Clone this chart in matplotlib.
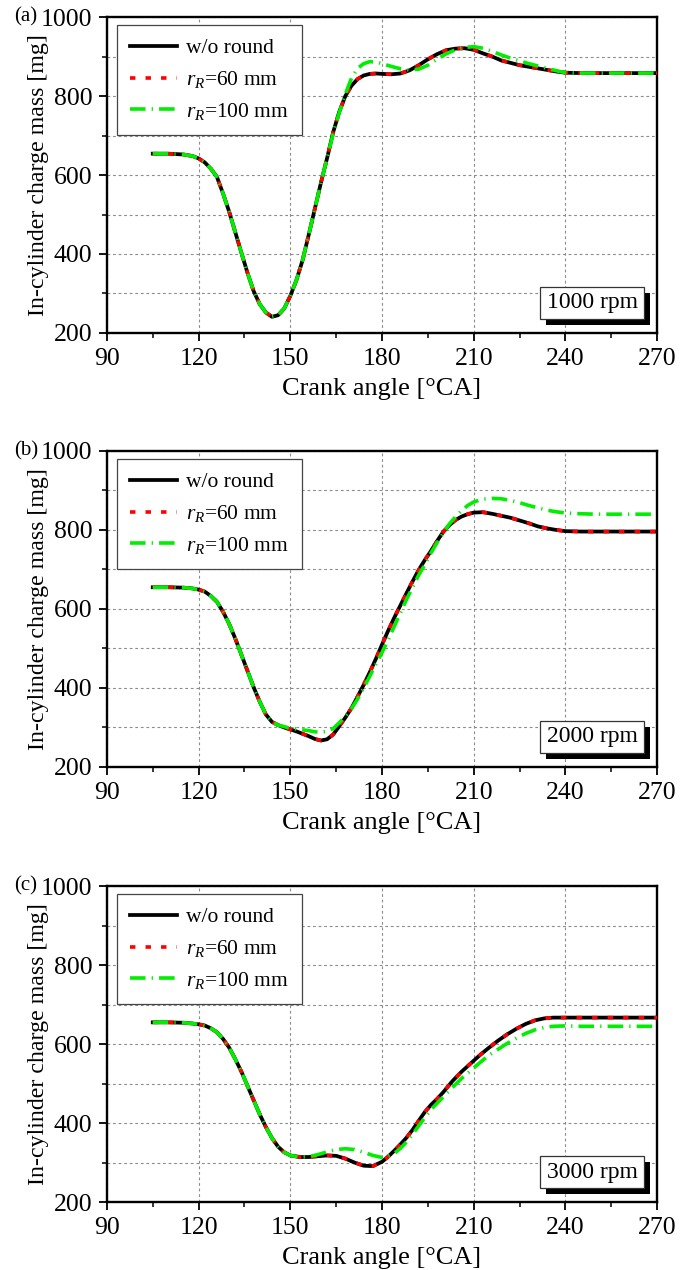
import matplotlib
matplotlib.use('Agg')
import matplotlib.pyplot as plt
from matplotlib.ticker import MultipleLocator
from matplotlib.patches import Rectangle

plt.rcParams['font.family'] = ['Liberation Serif', 'DejaVu Serif']
plt.rcParams['mathtext.fontset'] = 'custom'
plt.rcParams['mathtext.rm'] = 'Liberation Serif'
plt.rcParams['mathtext.it'] = 'Liberation Serif:italic'

# ---- data (crank angle [deg CA], charge mass [mg]) ----
# (a) 1000 rpm
ca_a = [105, 110, 115, 118, 120, 122, 124, 126, 128, 130, 132, 134, 136, 138, 140,
        142, 144, 146, 148, 150, 152, 154, 156, 158, 160, 162, 164, 166, 168, 170,
        172, 174, 176, 178, 180, 183, 186, 189, 192, 195, 198, 201, 204, 207, 210,
        213, 216, 219, 222, 225, 228, 231, 234, 237, 240, 245, 250, 260, 270]
base_a = [654, 654, 652, 648, 642, 632, 616, 595, 553, 507, 455, 403, 352, 306, 273,
          252, 241, 245, 262, 294, 334, 384, 448, 514, 580, 642, 708, 760, 800, 826,
          843, 852, 856, 857, 856, 855, 857, 865, 878, 893, 906, 916, 920, 921, 917,
          908, 900, 890, 884, 878, 874, 870, 866, 862, 859, 858, 858, 858, 858]
r60_a = base_a  # coincides with the w/o round curve
r100_a = [654, 654, 652, 648, 642, 632, 616, 595, 553, 507, 455, 403, 352, 306, 273,
          252, 241, 245, 262, 294, 334, 384, 448, 514, 580, 642, 705, 758, 805, 845,
          870, 882, 887, 886, 882, 875, 869, 866, 868, 878, 893, 907, 917, 923, 925,
          921, 913, 904, 896, 889, 882, 876, 870, 864, 859, 858, 858, 858, 858]

# (b) 2000 rpm
ca_b = [105, 110, 115, 118, 120, 122, 124, 126, 128, 130, 132, 134, 136, 138, 140,
        142, 144, 146, 148, 150, 152, 154, 156, 158, 160, 162, 164, 166, 168, 170,
        172, 174, 176, 178, 180, 182, 184, 186, 188, 190, 192, 194, 196, 198, 200,
        202, 204, 206, 208, 210, 213, 216, 219, 222, 225, 228, 231, 234, 237, 240,
        245, 250, 260, 270]
base_b = [655, 655, 654, 652, 649, 644, 633, 618, 593, 562, 525, 484, 443, 402, 365,
          333, 314, 306, 300, 295, 290, 284, 278, 271, 267, 270, 282, 303, 325, 349,
          378, 408, 440, 474, 510, 545, 578, 609, 640, 670, 699, 724, 747, 772, 795,
          812, 825, 834, 840, 844, 845, 841, 836, 831, 824, 817, 809, 804, 800, 797,
          796, 796, 796, 796]
r60_b = base_b
r100_b = [655, 655, 654, 652, 649, 644, 633, 618, 593, 562, 525, 484, 443, 402, 365,
          333, 314, 306, 302, 298, 296, 294, 292, 289, 288, 290, 297, 312, 328, 348,
          372, 400, 430, 460, 490, 522, 556, 590, 624, 655, 686, 712, 742, 768, 792,
          815, 833, 849, 862, 871, 878, 880, 879, 875, 869, 862, 856, 850, 846, 843,
          841, 840, 840, 840]

# (c) 3000 rpm
ca_c = [105, 110, 115, 118, 120, 122, 124, 126, 128, 130, 132, 134, 136, 138, 140,
        142, 144, 146, 148, 150, 153, 156, 159, 162, 165, 168, 171, 174, 177, 180,
        182, 184, 186, 188, 190, 192, 194, 196, 198, 200, 203, 206, 209, 212, 215,
        218, 221, 224, 227, 230, 233, 236, 240, 245, 250, 260, 270]
base_c = [655, 655, 654, 652, 650, 647, 640, 630, 613, 591, 562, 530, 494, 458, 422,
          390, 362, 340, 326, 318, 314, 314, 316, 318, 317, 310, 300, 292, 291, 302,
          315, 330, 346, 363, 383, 406, 428, 446, 461, 478, 506, 530, 551, 572, 591,
          609, 625, 639, 651, 660, 665, 667, 667, 667, 667, 667, 667]
r60_c = base_c
r100_c = [655, 655, 654, 652, 650, 647, 640, 630, 613, 591, 562, 530, 494, 458, 422,
          390, 362, 340, 326, 318, 314, 315, 320, 327, 333, 335, 333, 326, 318, 313,
          316, 323, 336, 352, 372, 393, 414, 434, 450, 466, 490, 513, 533, 553, 572,
          587, 602, 615, 627, 636, 642, 645, 646, 645, 645, 645, 645]

labels = ['w/o round', r'$r_R$=60 mm', r'$r_R$=100 mm']
tags = ['(a)', '(b)', '(c)']
speeds = ['1000 rpm', '2000 rpm', '3000 rpm']

panels = [(ca_a, base_a, r60_a, r100_a),
          (ca_b, base_b, r60_b, r100_b),
          (ca_c, base_c, r60_c, r100_c)]

fig = plt.figure(figsize=(6.94, 12.70), dpi=100)
bottoms = [0.7378, 0.3961, 0.0535]

for (ca, m0, m60, m100), tag, rpm, b in zip(panels, tags, speeds, bottoms):
    ax = fig.add_axes([0.154, b, 0.793, 0.2488])
    ax.plot(ca, m0, color='black', lw=2.7, label=labels[0], zorder=3)
    ax.plot(ca, m60, color='#ff0000', lw=2.6, linestyle=(0, (1.5, 2.8)),
            label=labels[1], zorder=4)
    ax.plot(ca, m100, color='#00ee00', lw=2.6, linestyle=(0, (4.3, 1.7, 0.35, 1.7)),
            label=labels[2], zorder=5)

    ax.set_xlim(90, 270)
    ax.set_ylim(200, 1000)
    ax.xaxis.set_major_locator(MultipleLocator(30))
    ax.xaxis.set_minor_locator(MultipleLocator(15))
    ax.yaxis.set_major_locator(MultipleLocator(200))
    ax.yaxis.set_minor_locator(MultipleLocator(100))
    ax.grid(which='major', axis='x', color='#8c8c8c', lw=0.8, linestyle=(0, (2.5, 2.5)))
    ax.grid(which='both', axis='y', color='#8c8c8c', lw=0.8, linestyle=(0, (2.5, 2.5)))
    ax.set_axisbelow(True)
    ax.tick_params(which='major', direction='out', length=6, width=1.3,
                   labelsize=18.5, pad=4.5)
    ax.tick_params(which='minor', direction='out', length=3.5, width=1.1)
    for sp in ax.spines.values():
        sp.set_linewidth(1.7)

    ax.set_xlabel('Crank angle [°CA]', fontsize=19)
    ax.set_ylabel('In-cylinder charge mass [mg]', fontsize=17.2)
    ax.xaxis.set_label_coords(0.5, -0.142)
    ax.yaxis.set_label_coords(-0.106, 0.5)

    ax.text(-0.168, 1.0, tag, transform=ax.transAxes, fontsize=15,
            ha='left', va='center')

    leg = ax.legend(loc='upper left', bbox_to_anchor=(0.018, 0.975),
                    borderaxespad=0, fontsize=15.5, handlelength=2.2,
                    handletextpad=0.4, labelspacing=0.5, borderpad=0.62,
                    fancybox=False, framealpha=1, edgecolor='#444444')
    leg.get_frame().set_linewidth(0.9)

    # speed tag with drop shadow
    x0, y0, w, h = 0.787, 0.043, 0.189, 0.104
    ax.add_patch(Rectangle((x0 + 0.011, y0 - 0.019), w, h, transform=ax.transAxes,
                           facecolor='black', edgecolor='none', zorder=6))
    ax.add_patch(Rectangle((x0, y0), w, h, transform=ax.transAxes,
                           facecolor='white', edgecolor='#333333', lw=0.9, zorder=7))
    ax.text(x0 + w / 2, y0 + h / 2, rpm, transform=ax.transAxes, fontsize=17,
            ha='center', va='center', zorder=8)

fig.savefig('out.png', dpi=100)
